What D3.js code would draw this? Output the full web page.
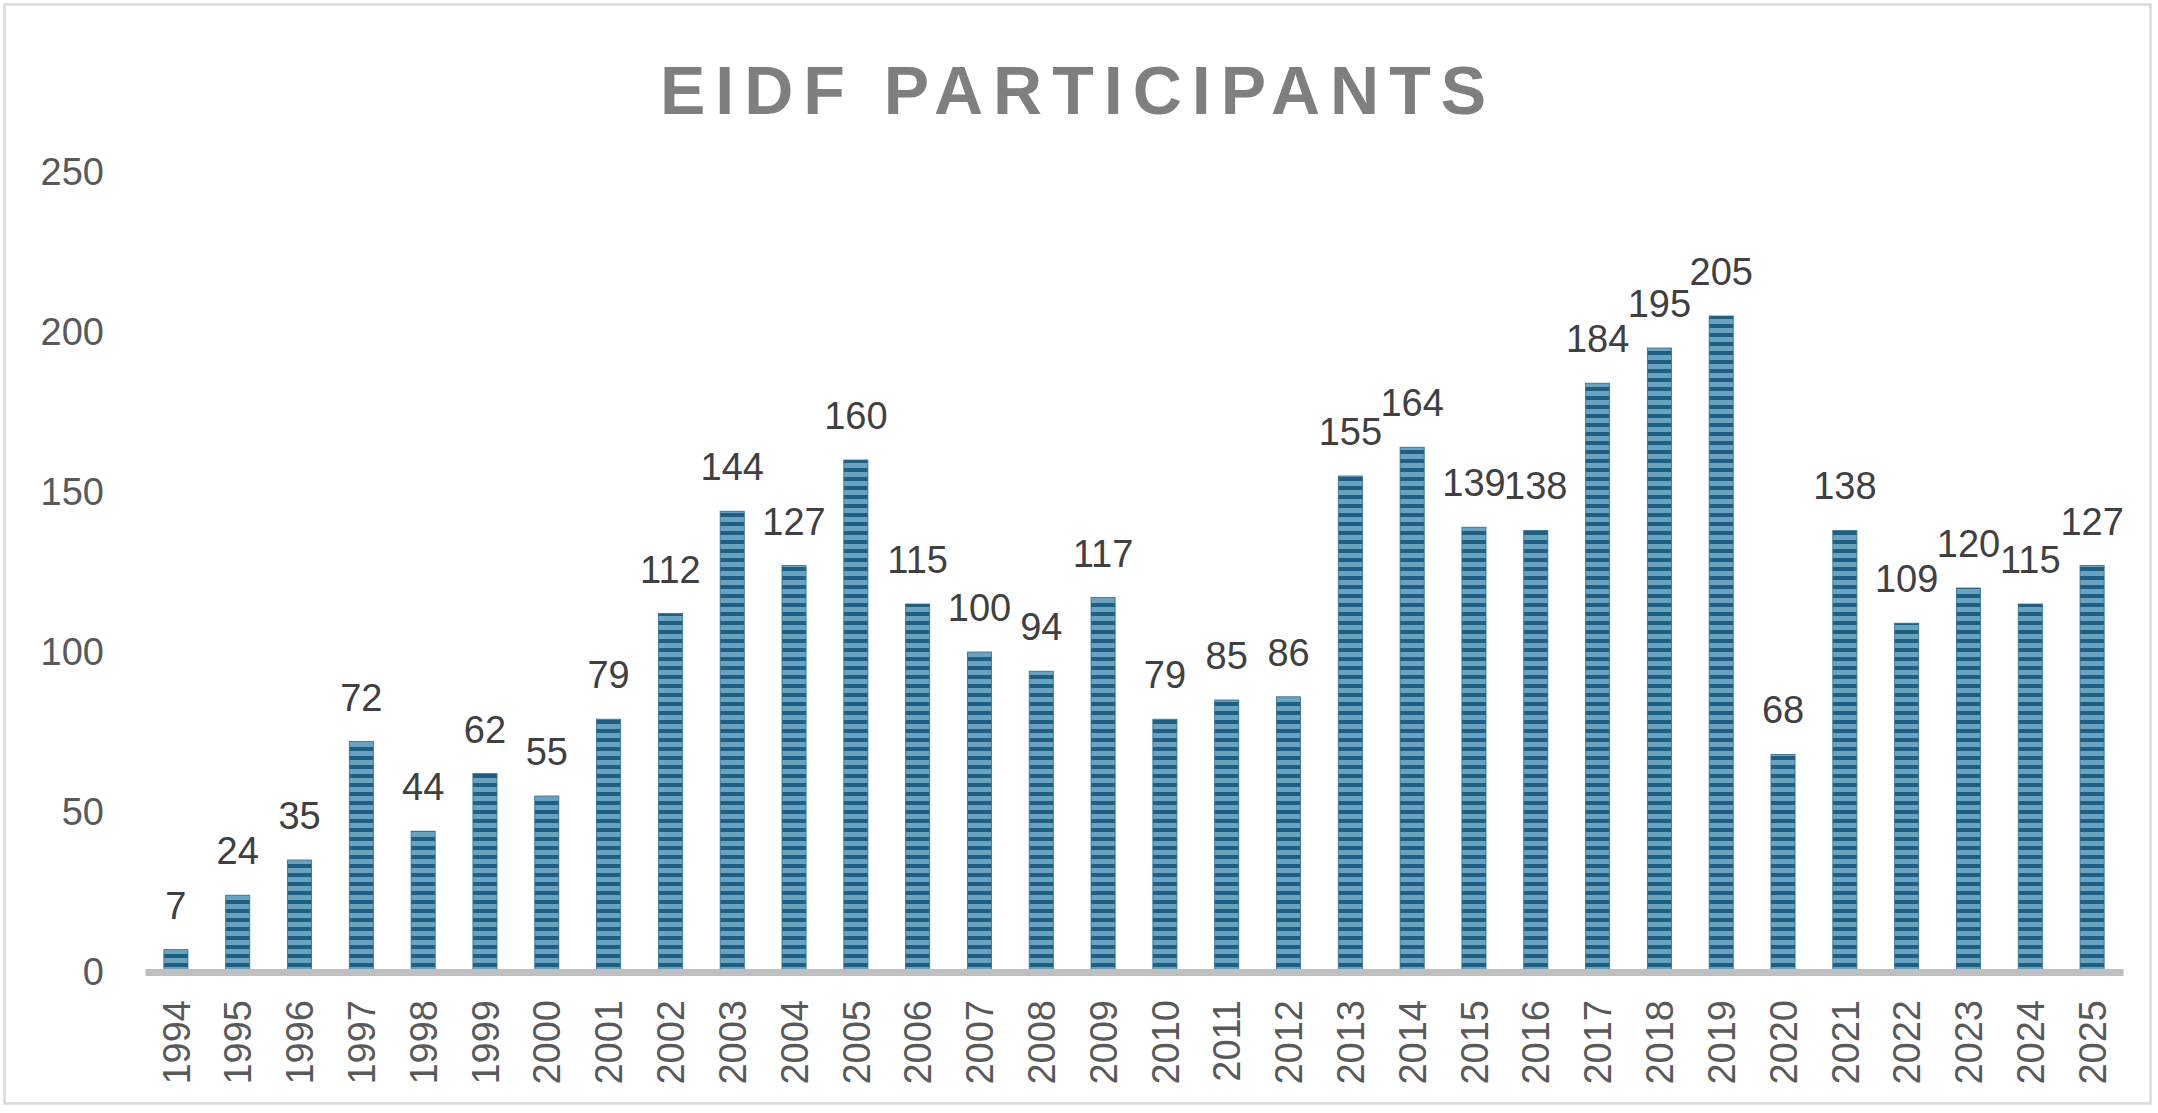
<!DOCTYPE html>
<html>
<head>
<meta charset="utf-8">
<script src="https://cdn.jsdelivr.net/npm/d3@7"></script>
<style>
  body { margin: 0; background: #fff; }
  svg text { font-family: "Liberation Sans", Arial, sans-serif; }
</style>
</head>
<body>
<div id="chart"></div>
<script>
// EIDF participants per year
var years = ["1994","1995","1996","1997","1998","1999","2000","2001","2002","2003",
             "2004","2005","2006","2007","2008","2009","2010","2011","2012","2013",
             "2014","2015","2016","2017","2018","2019","2020","2021","2022","2023",
             "2024","2025"];
var participants = [7, 24, 35, 72, 44, 62, 55, 79, 112, 144,
                    127, 160, 115, 100, 94, 117, 79, 85, 86, 155,
                    164, 139, 138, 184, 195, 205, 68, 138, 109, 120,
                    115, 127];
var yTicks = [0, 50, 100, 150, 200, 250];
var title = "EIDF PARTICIPANTS";

var width = 2158
  , height = 1113
  , left = 145
  , right = 2123
  , baseline = 972
  , top_y = 172;

var svg = d3.select("#chart").append("svg")
    .attr("width", width)
    .attr("height", height);

// striped fill like the excel pattern
var pat = svg.append("defs").append("pattern")
    .attr("id", "stripes")
    .attr("patternUnits", "userSpaceOnUse")
    .attr("width", 10)
    .attr("height", 9);
pat.append("rect").attr("width", 10).attr("height", 9).attr("fill", "#6aa3c0");
pat.append("rect").attr("width", 10).attr("height", 4).attr("fill", "#1d6084");

svg.append("rect")
    .attr("x", 4.5).attr("y", 4.5)
    .attr("width", 2146).attr("height", 1099)
    .attr("fill", "#fff")
    .attr("stroke", "#d9d9d9")
    .attr("stroke-width", 2.5);

svg.append("text")
    .attr("x", 1078)
    .attr("y", 114)
    .attr("text-anchor", "middle")
    .style("font-size", "68px")
    .style("font-weight", "bold")
    .style("letter-spacing", "10px")
    .attr("fill", "#7f7f7f")
    .text(title);

var x = d3.scaleBand()
    .domain(years)
    .range([left, right])
    .paddingInner(0.61)
    .paddingOuter(0.305);

var y = d3.scaleLinear()
    .domain([0, 250])
    .range([baseline, top_y]);

// y axis labels only
var yAxis = svg.append("g")
    .attr("transform", "translate(104,0)")
    .call(d3.axisLeft(y).tickValues(yTicks).tickSize(0).tickPadding(0));
yAxis.select(".domain").remove();
yAxis.selectAll("text")
    .style("font-size", "38px")
    .attr("fill", "#595959");

var bars = svg.append("g");
bars.selectAll("rect")
    .data(participants)
    .join("rect")
    .attr("x", function(d, i) { return x(years[i]); })
    .attr("y", function(d) { return y(d); })
    .attr("width", x.bandwidth())
    .attr("height", function(d) { return baseline - y(d); })
    .attr("fill", "url(#stripes)")
    .attr("stroke", "#2d6f91")
    .attr("stroke-width", 0.8);

bars.selectAll("text")
    .data(participants)
    .join("text")
    .attr("x", function(d, i) { return x(years[i]) + x.bandwidth() / 2; })
    .attr("y", function(d) { return y(d) - 31; })
    .attr("text-anchor", "middle")
    .style("font-size", "38px")
    .attr("fill", "#404040")
    .text(function(d) { return d; });

var xAxis = svg.append("g")
    .attr("transform", "translate(0," + baseline + ")")
    .call(d3.axisBottom(x).tickSize(0).tickSizeOuter(0));
xAxis.select(".domain")
    .attr("stroke", "#bfbfbf")
    .attr("stroke-width", 7);
xAxis.selectAll("text")
    .style("font-size", "38px")
    .attr("fill", "#595959")
    .attr("text-anchor", "end")
    .attr("transform", "rotate(-90)")
    .attr("x", -28)
    .attr("y", 0)
    .attr("dy", "0.36em");
</script>
</body>
</html>
